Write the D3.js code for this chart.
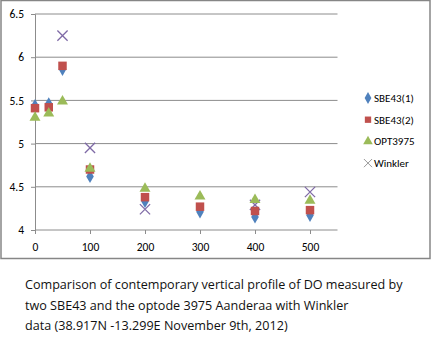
<!DOCTYPE html>
<html>
<head>
<meta charset="utf-8">
<script src="https://cdn.jsdelivr.net/npm/d3@7"></script>
<style>
  body { margin: 0; background: #fff; }
  svg { display: block; }
</style>
</head>
<body>
<svg id="chart" width="432" height="354"></svg>
<script>
const depths = [0, 25, 50, 100, 200, 300, 400, 500];
const sbe1 = [5.44, 5.46, 5.86, 4.62, 4.33, 4.21, 4.15, 4.17];
const sbe2 = [5.41, 5.42, 5.90, 4.70, 4.38, 4.27, 4.22, 4.23];
const opt = [5.30, 5.35, 5.49, 4.71, 4.48, 4.39, 4.35, 4.34];
const winkler = [null, null, 6.25, 4.95, 4.24, null, 4.29, 4.44];
const xTicks = [0, 100, 200, 300, 400, 500];
const yTicks = [4, 4.5, 5, 5.5, 6, 6.5];
const caption = [
    "Comparison of contemporary vertical profile of DO measured by",
    "two SBE43 and the optode 3975 Aanderaa with Winkler",
    "data (38.917N -13.299E November 9th, 2012)"
];

const series = [
    {name: "SBE43(1)", values: sbe1, color: "#4f81bd", shape: "diamond"},
    {name: "SBE43(2)", values: sbe2, color: "#c0504d", shape: "square"},
    {name: "OPT3975", values: opt, color: "#9bbb59", shape: "triangle"},
    {name: "Winkler", values: winkler, color: "#7f6aa6", shape: "x"}
];
// Winkler crosses sit underneath the sensor markers
const drawOrder = [3, 0, 1, 2];

const svg = d3.select("#chart");
const font = "Carlito, 'Liberation Sans', Arial, sans-serif";

svg.append("rect")
    .attr("x", 1).attr("y", 0.5).attr("width", 429).attr("height", 258)
    .attr("fill", "#fff").attr("stroke", "#868686").attr("stroke-width", 1.5);

const x = d3.scaleLinear().domain([0, 550]).range([35, 337.5]);
const y = d3.scaleLinear().domain([4, 6.5]).range([230, 14]);

// gridlines
svg.append("g")
    .selectAll("line")
    .data(yTicks.slice(1))
    .join("line")
    .attr("x1", x(0)).attr("x2", x(550))
    .attr("y1", d => y(d)).attr("y2", d => y(d))
    .attr("stroke", "#8c8c8c").attr("stroke-width", 1);

const yAxis = svg.append("g")
    .attr("transform", `translate(${x(0)},0)`)
    .call(d3.axisLeft(y).tickValues(yTicks).tickFormat(d3.format("")).tickSize(4).tickPadding(7));
const xAxis = svg.append("g")
    .attr("transform", `translate(0,${y(4)})`)
    .call(d3.axisBottom(x).tickValues(xTicks).tickSize(4).tickPadding(9));

[xAxis, yAxis].forEach(g => {
    g.select(".domain").attr("stroke", "#8c8c8c");
    g.selectAll(".tick line").attr("stroke", "#8c8c8c");
    g.selectAll("text").attr("font-family", font).attr("font-size", 11.5).attr("fill", "#000");
});
xAxis.select(".domain").attr("d", `M${x(0)},0H${x(550)}`);

const sym = {
    diamond: d3.symbol().type(d3.symbolDiamond).size(50),
    square: d3.symbol().type(d3.symbolSquare).size(72),
    triangle: d3.symbol().type(d3.symbolTriangle).size(52),
    x: d3.symbol().type(d3.symbolX).size(70)
};

drawOrder.map(i => series[i]).forEach(s => {
    const pts = depths.map((d, i) => ({d, v: s.values[i]})).filter(p => p.v != null);
    svg.append("g")
        .selectAll("path")
        .data(pts)
        .join("path")
        .attr("transform", p => `translate(${x(p.d)},${y(p.v)})`)
        .attr("d", sym[s.shape])
        .attr("fill", s.shape === "x" ? "none" : s.color)
        .attr("stroke", s.shape === "x" ? s.color : "none")
        .attr("stroke-width", 1.3);
});

// legend
const legend = svg.append("g")
    .selectAll("g")
    .data(series)
    .join("g")
    .attr("transform", (d, i) => `translate(368,${98 + i * 21.7})`);

legend.append("path")
    .attr("d", d => d3.symbol().type({diamond: d3.symbolDiamond, square: d3.symbolSquare, triangle: d3.symbolTriangle, x: d3.symbolX}[d.shape]).size(d.shape === "x" ? 45 : 40)())
    .attr("fill", d => d.shape === "x" ? "none" : d.color)
    .attr("stroke", d => d.shape === "x" ? "#999" : "none")
    .attr("stroke-width", 1);

legend.append("text")
    .attr("x", 6).attr("dy", "0.35em")
    .attr("font-family", font).attr("font-size", 11)
    .text(d => d.name);

svg.append("g")
    .selectAll("text")
    .data(caption)
    .join("text")
    .attr("x", 25)
    .attr("y", (d, i) => 289 + i * 20.5)
    .attr("font-family", "'Open Sans', sans-serif")
    .attr("font-size", 12.6)
    .attr("fill", "#111")
    .text(d => d);
</script>
</body>
</html>
